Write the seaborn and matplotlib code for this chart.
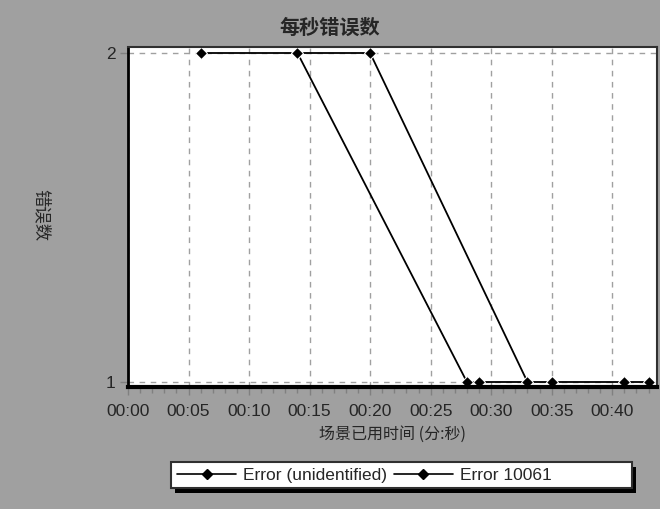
import matplotlib
matplotlib.use("Agg")
import matplotlib.pyplot as plt
import seaborn as sns
import pandas as pd
from matplotlib.ticker import FixedLocator, FuncFormatter, MultipleLocator
from matplotlib.lines import Line2D
from matplotlib.patches import Rectangle

# ---- data ----
series_a_name = "Error (unidentified)"
series_a_t = [6, 14, 28, 29, 35, 41, 43]
series_a_v = [2, 2, 1, 1, 1, 1, 1]
series_b_name = "Error 10061"
series_b_t = [14, 20, 33]
series_b_v = [2, 2, 1]
x_ticks = [0, 5, 10, 15, 20, 25, 30, 35, 40]
y_ticks = [1, 2]
title = "每秒错误数"
x_label = "场景已用时间 (分:秒)"
y_label = "错误数"

df = pd.DataFrame({
    "t": series_a_t + series_b_t,
    "v": series_a_v + series_b_v,
    "series": [series_a_name] * len(series_a_t) + [series_b_name] * len(series_b_t),
})

sns.set_theme(style="white")
plt.rcParams["font.family"] = ["Liberation Sans", "Noto Sans CJK SC", "DejaVu Sans"]
cjk = ["Noto Sans CJK SC", "DejaVu Sans"]

W, H = 660, 509
bg = "#a0a0a0"
fig = plt.figure(figsize=(6.6, 5.09), dpi=100, facecolor=bg)
ax = fig.add_axes([128 / W, 1 - 387 / H, 529 / W, 340 / H])
ax.set_facecolor("white")

sns.lineplot(data=df, x="t", y="v", hue="series", style="series",
             palette=["black", "black"], markers=["D", "D"], dashes=False,
             sort=False, estimator=None, markersize=6.5, linewidth=1.3,
             legend=False, ax=ax)

ax.set_xlim(0, 43.7)
ax.set_ylim(1 - 5 / 329, 2 + 6 / 329)
ax.xaxis.set_major_locator(FixedLocator(x_ticks))
ax.xaxis.set_minor_locator(MultipleLocator(1))
ax.xaxis.set_major_formatter(FuncFormatter(lambda v, p: f"{int(v)//60:02d}:{int(v)%60:02d}"))
ax.yaxis.set_major_locator(FixedLocator(y_ticks))
ax.yaxis.set_major_formatter(FuncFormatter(lambda v, p: f"{int(v)}"))

ax.grid(True, which="major", color="#a0a0a0", linestyle=(0, (4, 4)), linewidth=1)
ax.tick_params(axis="x", which="major", length=6, width=1, color="#808080",
               labelsize=12.5, pad=6, direction="out", bottom=True)
ax.tick_params(axis="x", which="minor", length=4, width=1, color="#808080",
               direction="out", bottom=True)
ax.tick_params(axis="y", which="major", length=6, width=1, color="#808080",
               labelsize=12.5, pad=3, left=True)

for s in ["top", "right"]:
    ax.spines[s].set_color("#303030")
    ax.spines[s].set_linewidth(1.5)
ax.spines["left"].set_color("black")
ax.spines["left"].set_linewidth(2)
ax.spines["bottom"].set_color("black")
ax.spines["bottom"].set_linewidth(3)

ax.set_xlabel(x_label, fontsize=11.5, family=cjk, labelpad=5)
ax.set_ylabel("")
fig.text(41 / W, 1 - 215 / H, y_label, rotation=-90, fontsize=12.5,
         family=cjk, ha="center", va="center")
fig.text(0.5, 1 - 27 / H, title, fontsize=14.5, fontweight="bold",
         family=cjk, ha="center", va="center")

# legend box with hard shadow
x0, x1, y0, y1 = 171, 632, 462, 488
fig.patches.append(Rectangle(((x0 + 4) / W, 1 - (y1 + 5) / H), (x1 - x0) / W,
                             (y1 - y0) / H, transform=fig.transFigure,
                             facecolor="black", edgecolor="none", zorder=1))
fig.patches.append(Rectangle((x0 / W, 1 - y1 / H), (x1 - x0) / W, (y1 - y0) / H,
                             transform=fig.transFigure, facecolor="white",
                             edgecolor="#303030", linewidth=1.5, zorder=2))

handles = [Line2D([], [], color="black", marker="D", markersize=5.5, linewidth=1.2)
           for _ in range(2)]
leg = fig.legend(handles, [series_a_name, series_b_name], ncol=2,
                 loc="center left", bbox_to_anchor=(177 / W, 1 - 475 / H),
                 frameon=False, fontsize=12.5, handlelength=3.4,
                 handletextpad=0.4, columnspacing=0.4, borderpad=0,
                 borderaxespad=0)
leg.set_zorder(3)

fig.savefig("out.png", dpi=100, facecolor=bg)
